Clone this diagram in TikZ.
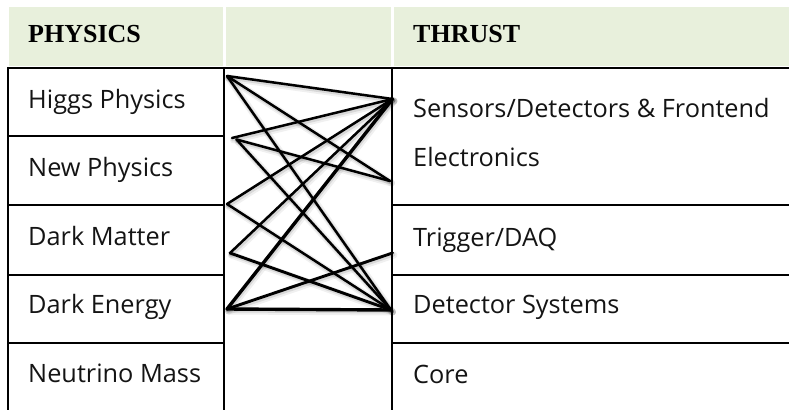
\documentclass[tikz,border=0pt]{standalone}
\usepackage{fontspec}
\setmainfont{Open Sans}
\newfontfamily\hdrfont{Liberation Serif}
\definecolor{hdrgreen}{HTML}{E8F0DC}
\begin{document}
\begin{tikzpicture}[x=1pt,y=-1pt,
  cell/.style={font=\fontsize{25.3}{30}\selectfont, anchor=base west, inner sep=0pt, text=black!92},
  hdr/.style={font=\hdrfont\bfseries\fontsize{26}{30}\selectfont, anchor=base west, inner sep=0pt},
  gridline/.style={line width=1.6pt},
  vline/.style={line width=2.5pt},
  link/.style={line width=2.5pt, line cap=round, line join=round},
  boldlink/.style={link, line width=3.4pt},
  midlink/.style={link, line width=2.9pt},
  shadowA/.style={line width=7pt, draw=black, opacity=0.06, line cap=round, transform canvas={shift={(1.5pt,-2pt)}}},
  shadowB/.style={line width=4pt, draw=black, opacity=0.10, line cap=round, transform canvas={shift={(1pt,-1.5pt)}}}
]
\useasboundingbox (0,0) rectangle (789,410);
% header cells
\fill[hdrgreen] (9,7) rectangle (223,66);
\fill[hdrgreen] (226,7) rectangle (391,66);
\fill[hdrgreen] (394,7) rectangle (789,66);
\node[hdr] (hphys) at (28,42) {PHYSICS};
\node[hdr] (hthrust) at (413,42) {THRUST};
% grid
\draw[gridline] (8,68) -- (789,68);
\draw[vline] (8,67) -- (8,410);
\draw[vline] (224,67) -- (224,410);
\draw[vline] (392,67) -- (392,410);
\foreach \yy in {136,205,275,343} \draw[gridline] (8,\yy) -- (224,\yy);
\foreach \yy in {205,275,343} \draw[gridline] (392,\yy) -- (789,\yy);
% cell texts
\node[cell] (higgs) at (28,108) {Higgs Physics};
\node[cell] (newph) at (28,176) {New Physics};
\node[cell] (dm) at (28,245) {Dark Matter};
\node[cell] (de) at (28,313) {Dark Energy};
\node[cell] (nm) at (28,382) {Neutrino Mass};
\node[cell] (sens) at (413,117) {Sensors/Detectors \& Frontend};
\node[cell] (elec) at (413,166) {Electronics};
\node[cell] (trig) at (413,246) {Trigger/DAQ};
\node[cell] (dets) at (413,313) {Detector Systems};
\node[cell] (core) at (413,383) {Core};
% connector end points
\coordinate (A) at (227,76);
\coordinate (B1) at (232,138);
\coordinate (B2) at (236.5,139.5);
\coordinate (C) at (227,204);
\coordinate (D) at (230,253);
\coordinate (E) at (227,309);
\coordinate (P) at (392.5,99);
\coordinate (Q) at (390,181);
\coordinate (R) at (392.5,253);
\coordinate (S) at (391,310);
% shadows
\foreach \u/\v in {A/P,A/Q,A/S,B1/P,B2/Q,B2/S,C/P,C/S,D/P,D/S,E/P,E/R,E/S}{
  \draw[shadowA] (\u) -- (\v);
  \draw[shadowB] (\u) -- (\v);
}
% connectors
\draw[link] (A) -- (P);
\draw[link] (A) -- (Q);
\draw[link] (A) -- (S);
\draw[link] (B1) -- (P);
\draw[link] (B2) -- (Q);
\draw[link] (B2) -- (S);
\draw[link] (C) -- (P);
\draw[link] (C) -- (S);
\draw[link] (D) -- (P);
\draw[midlink] (D) -- (S);
\draw[boldlink] (E) -- (P);
\draw[midlink] (E) -- (R);
\draw[boldlink] (E) -- (S);
\end{tikzpicture}
\end{document}
